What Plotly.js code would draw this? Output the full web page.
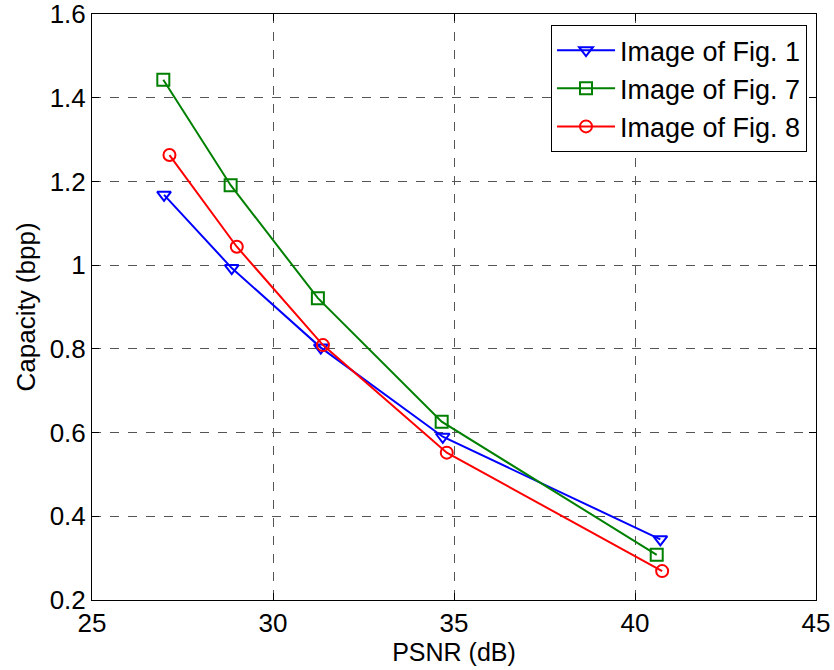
<!DOCTYPE html>
<html>
<head>
<meta charset="utf-8">
<script src="https://cdn.plot.ly/plotly-3.0.1.min.js"></script>
<style>body{margin:0;padding:0;background:#fff;}#chart{width:834px;height:670px;}</style>
</head>
<body>
<div id="chart"></div>
<script>
const fig1_psnr = [26.99, 28.86, 31.32, 34.69, 40.70];
const fig1_cap  = [1.168, 0.993, 0.803, 0.590, 0.345];
const fig7_psnr = [26.97, 28.83, 31.24, 34.66, 40.60];
const fig7_cap  = [1.443, 1.191, 0.921, 0.626, 0.308];
const fig8_psnr = [27.14, 29.00, 31.38, 34.80, 40.75];
const fig8_cap  = [1.263, 1.044, 0.809, 0.552, 0.269];
const seriesNames = ['Image of Fig. 1', 'Image of Fig. 7', 'Image of Fig. 8'];

const font = 'Liberation Sans, Arial, Helvetica, sans-serif';

function tr(x, y, name, color, symbol) {
  return {
    x: x, y: y, name: name, type: 'scatter', mode: 'lines+markers',
    line: {color: color, width: 2},
    marker: {symbol: symbol, size: 12, color: color, line: {color: color, width: 2}}
  };
}

const data = [
  tr(fig1_psnr, fig1_cap, seriesNames[0], '#0000ff', 'triangle-down-open'),
  tr(fig7_psnr, fig7_cap, seriesNames[1], '#008000', 'square-open'),
  tr(fig8_psnr, fig8_cap, seriesNames[2], '#ff0000', 'circle-open')
];

const axisCommon = {
  showline: true, linecolor: '#000', linewidth: 1, mirror: 'allticks',
  ticks: 'inside', ticklen: 7, tickcolor: '#000', tickwidth: 1,
  showgrid: true, gridcolor: '#555', griddash: 'dash', gridwidth: 1,
  zeroline: false, ticklabeloverflow: 'allow',
  tickfont: {family: font, size: 26, color: '#000'}
};

const layout = {
  width: 834, height: 670,
  margin: {l: 92, r: 18, t: 14, b: 70},
  paper_bgcolor: '#fff', plot_bgcolor: '#fff',
  showlegend: true,
  xaxis: Object.assign({}, axisCommon, {
    range: [25, 45], dtick: 5, tick0: 25,
    title: {text: 'PSNR (dB)', font: {family: font, size: 25, color: '#000'}, standoff: 0}
  }),
  yaxis: Object.assign({}, axisCommon, {
    range: [0.2, 1.6], dtick: 0.2, tick0: 0.2,
    title: {text: 'Capacity (bpp)', font: {family: font, size: 26, color: '#000'}, standoff: 6}
  }),
  legend: {
    x: 0.9876, y: 0.981, xanchor: 'right', yanchor: 'top',
    bgcolor: '#fff', bordercolor: '#000', borderwidth: 1,
    font: {family: font, size: 27, color: '#000'},
    itemwidth: 58,
    tracegroupgap: 0
  }
};

Plotly.newPlot('chart', data, layout, {displayModeBar: false, staticPlot: true});
</script>
</body>
</html>
